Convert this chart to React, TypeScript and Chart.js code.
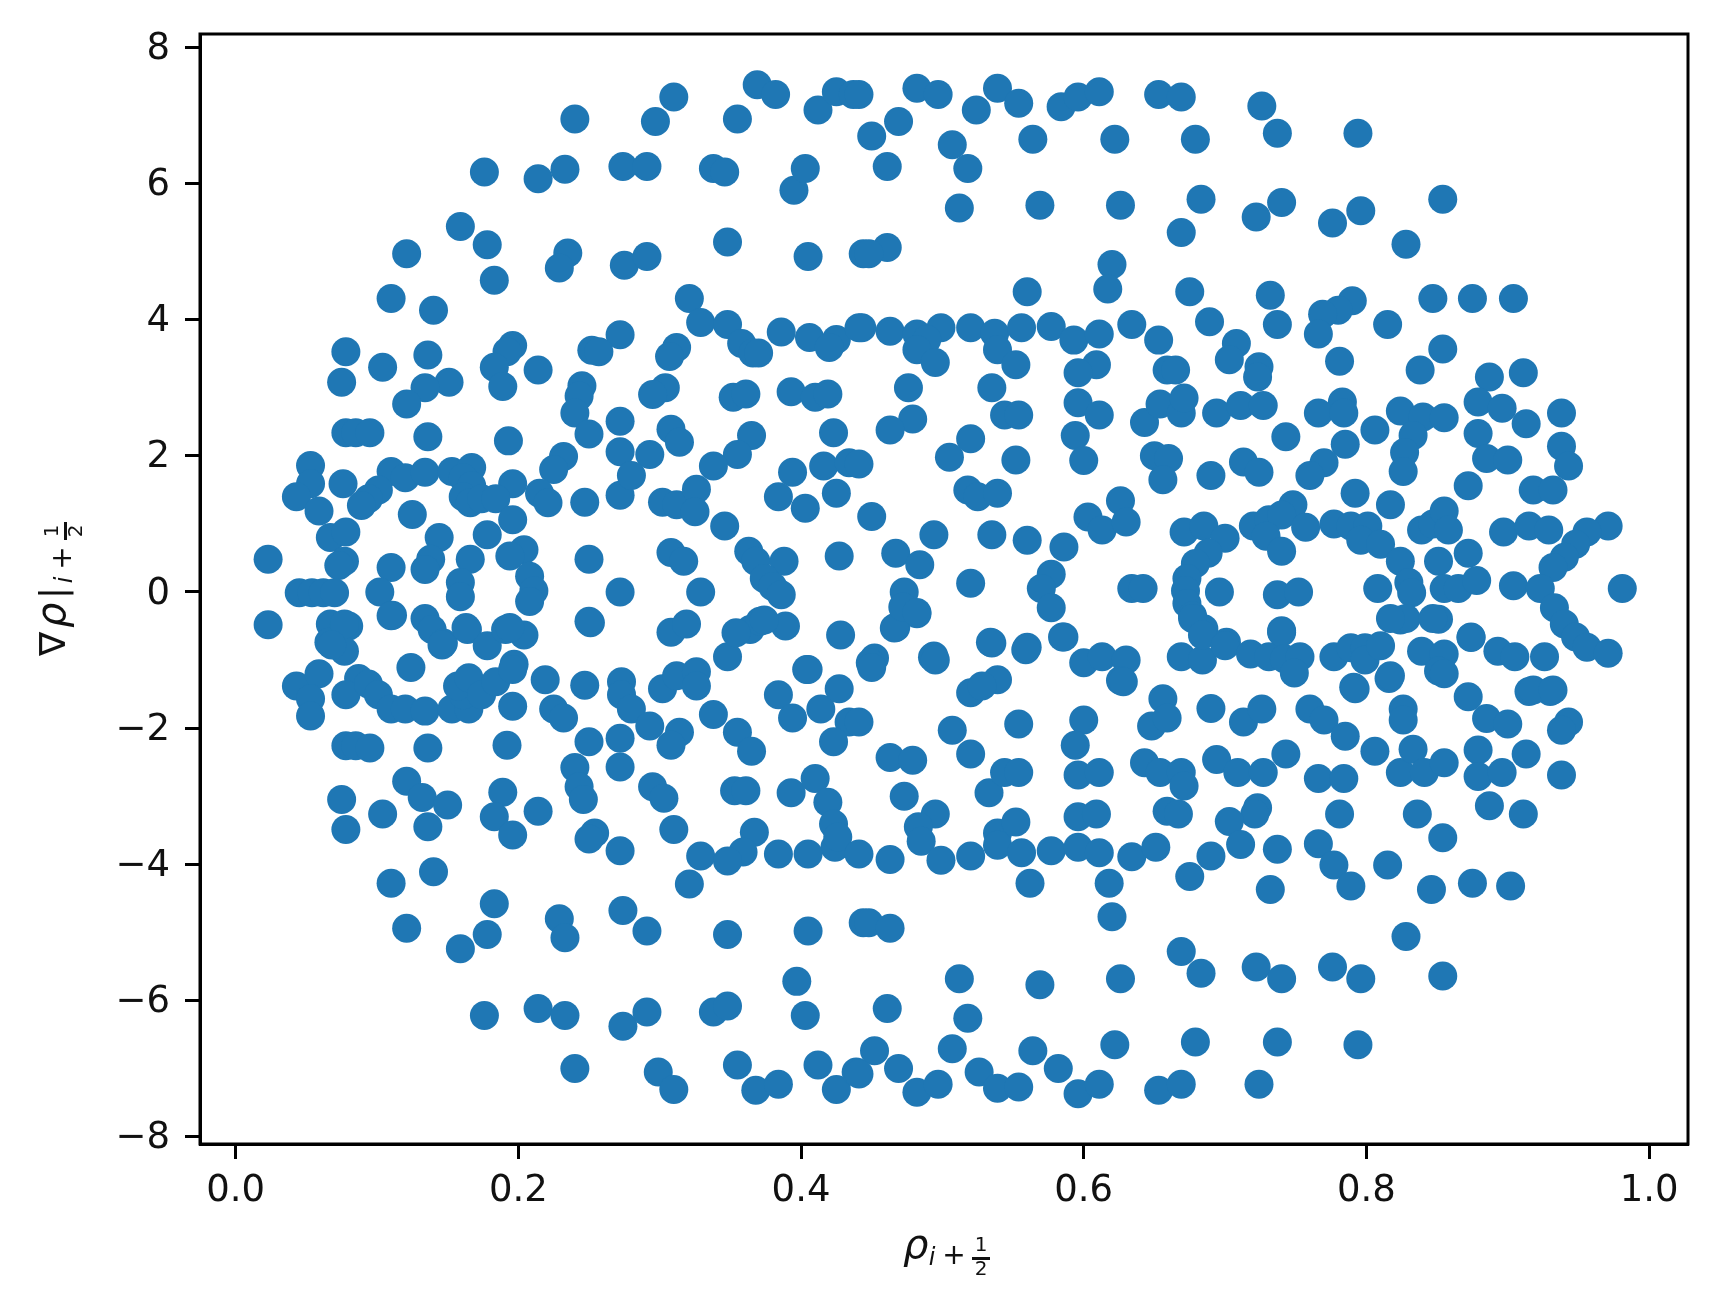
import React, { useEffect, useRef } from "react";
import { Chart, registerables } from "chart.js";

Chart.register(...registerables);

const xTickValues = [0, 0.2, 0.4, 0.6, 0.8, 1.0];
const yTickValues = [-8, -6, -4, -2, 0, 2, 4, 6, 8];

const upperLeft: number[][] = [
[.369,7.45],[.382,7.31],[.310,7.27],[.240,6.95],[.297,6.91],[.355,6.95],[.412,7.08],[.425,7.35],[.437,7.31],[.176,6.17],[.214,6.07],[.233,6.21],[.274,6.25],[.291,6.25],[.338,6.22],[.346,6.17],[.395,5.90],[.403,6.22],[.159,5.37],[.178,5.10],[.121,4.97],[.235,4.98],[.229,4.76],[.275,4.80],[.291,4.93],[.348,5.14],[.405,4.93],[.444,4.97],[.183,4.58],[.110,4.31],[.140,4.14],[.321,4.31],[.329,3.96],[.348,3.93],[.386,3.82],[.406,3.74],[.425,3.71],[.420,3.59],[.443,3.88],[.272,3.78],[.252,3.55],[.257,3.53],[.312,3.59],[.307,3.46],[.358,3.65],[.366,3.51],[.370,3.51],[.078,3.53],[.136,3.48],[.104,3.30],[.196,3.62],[.192,3.53],[.183,3.30],[.189,3.02],[.214,3.26],[.075,3.08],[.151,3.08],[.134,3.00],[.121,2.76],[.245,3.03],[.243,2.88],[.240,2.63],[.250,2.32],[.272,2.51],[.304,3.00],[.295,2.90],[.352,2.86],[.361,2.91],[.393,2.94],[.410,2.86],[.419,2.91],[.078,2.34],[.085,2.34],[.095,2.34],[.136,2.28],[.193,2.22],[.423,2.34],[.308,2.39],[.314,2.20],[.365,2.30],[.355,2.02],[.272,2.06],[.293,2.02],[.338,1.85],[.232,1.99],[.225,1.80],[.053,1.86],[.394,1.76],[.416,1.85],[.434,1.90],[.110,1.77],[.120,1.68],[.134,1.76],[.153,1.77],[.167,1.83],[.161,1.68],[.167,1.56],[.196,1.59],[.076,1.59],[.053,1.59],[.043,1.40],[.059,1.19],[.101,1.50],[.094,1.37],[.089,1.27],[.161,1.40],[.166,1.31],[.174,1.37],[.184,1.37],[.215,1.45],[.221,1.31],[.247,1.32],[.272,1.42],[.280,1.71],[.302,1.32],[.312,1.28],[.326,1.51],[.325,1.18],[.384,1.40],[.403,1.23],[.425,1.45],[.125,1.14],[.196,1.06],[.346,.97],[.067,.80],[.078,.88],[.144,.80],[.178,.84],[.308,.58],[.317,.45],[.363,.60],[.368,.45],[.388,.45],[.427,.53],[.023,.48],[.250,.48],[.077,.45],[.073,.39],[.138,.48],[.134,.33],[.110,.36],[.166,.48],[.204,.62],[.194,.53],[.208,.23],[.159,.14],[.211,.02],[.102,0],[.045,-.01],[.054,-.01],[.062,-.01],[.070,-.01],[.159,-.07],[.208,-.14],[.272,0],[.329,0],[.374,.20],[.380,.08],[.386,-.04],
];

const upperRight: number[][] = [
[.441,7.31],[.482,7.40],[.497,7.31],[.524,7.08],[.539,7.40],[.554,7.18],[.584,7.13],[.596,7.27],[.611,7.35],[.653,7.31],[.669,7.27],[.726,7.14],[.737,6.74],[.794,6.74],[.469,6.91],[.450,6.70],[.507,6.57],[.518,6.22],[.564,6.65],[.622,6.65],[.679,6.65],[.461,6.25],[.512,5.64],[.569,5.68],[.626,5.68],[.683,5.77],[.740,5.72],[.722,5.51],[.669,5.28],[.776,5.42],[.796,5.60],[.828,5.11],[.854,5.77],[.461,5.06],[.448,4.97],[.620,4.81],[.617,4.45],[.560,4.41],[.675,4.41],[.732,4.36],[.790,4.28],[.780,4.14],[.769,4.08],[.847,4.31],[.875,4.31],[.904,4.31],[.441,3.88],[.463,3.83],[.482,3.79],[.499,3.88],[.489,3.71],[.482,3.56],[.495,3.37],[.520,3.88],[.537,3.80],[.539,3.56],[.552,3.34],[.556,3.88],[.577,3.90],[.593,3.70],[.611,3.79],[.634,3.93],[.653,3.70],[.689,3.97],[.737,3.93],[.708,3.65],[.703,3.41],[.724,3.31],[.723,3.16],[.766,3.79],[.815,3.93],[.781,3.39],[.854,3.57],[.838,3.26],[.609,3.34],[.596,3.22],[.659,3.26],[.665,3.26],[.887,3.16],[.911,3.22],[.476,3.0],[.535,3.0],[.596,2.78],[.611,2.60],[.544,2.60],[.554,2.60],[.479,2.54],[.463,2.38],[.520,2.25],[.505,1.98],[.552,1.94],[.594,2.30],[.600,1.93],[.643,2.49],[.654,2.76],[.669,2.63],[.671,2.85],[.694,2.63],[.711,2.74],[.727,2.74],[.783,2.79],[.766,2.63],[.784,2.63],[.806,2.38],[.743,2.28],[.824,2.66],[.840,2.57],[.855,2.56],[.879,2.79],[.896,2.70],[.913,2.47],[.938,2.63],[.785,2.17],[.833,2.30],[.827,2.05],[.826,1.77],[.879,2.33],[.885,1.96],[.900,1.94],[.938,2.14],[.943,1.85],[.650,2.0],[.660,1.96],[.656,1.65],[.690,1.71],[.713,1.91],[.724,1.76],[.770,1.90],[.760,1.71],[.441,1.88],[.518,1.50],[.525,1.40],[.539,1.45],[.792,1.45],[.817,1.28],[.872,1.56],[.918,1.50],[.932,1.50],[.450,1.11],[.494,.84],[.535,.84],[.560,.76],[.586,.66],[.626,1.34],[.603,1.10],[.613,.91],[.630,1.03],[.467,.57],[.484,.40],[.473,0],[.482,-.32],[.467,-.52],[.520,.13],[.577,.26],[.570,.05],[.577,-.23],[.634,.05],[.642,.05],
[.671,.88],[.685,.97],[.700,.79],[.688,.57],[.679,.42],[.673,.20],[.672,.02],[.673,-.17],[.677,-.35],[.685,-.54],[.696,0],[.720,.97],[.731,1.06],[.748,1.28],[.740,1.13],[.757,.95],[.729,.82],[.740,.60],[.777,1.0],[.789,.97],[.801,.97],[.796,.76],[.810,.70],[.824,.45],[.830,.14],[.832,-.01],[.824,-.41],[.808,.05],[.737,-.04],[.752,0],[.740,-.57],[.839,.91],[.847,1.0],[.855,1.19],[.858,.91],[.851,.45],[.872,.57],[.855,.05],[.865,.05],[.878,.17],[.851,-.40],[.874,-.66],[.897,.88],[.915,.97],[.929,.91],[.971,.97],[.956,.88],[.948,.70],[.940,.51],[.932,.36],[.904,.09],[.923,.05],[.933,-.23],[.940,-.47],[.948,-.66],[.956,-.81],[.981,.05],[.971,-.90],[.586,-.66],[.535,-.75],[.560,-.81],[.494,-.94],[.452,-.97],
];

const middleBand: number[][] = [
[.023,-.48],[.067,-.47],[.080,-.50],[.066,-.74],[.077,-.87],[.087,-1.27],[.111,-.34],[.134,-.39],[.139,-.55],[.147,-.75],[.124,-1.11],[.164,-.55],[.178,-.79],[.191,-.55],[.204,-.63],[.197,-1.06],[.251,-.45],[.308,-.59],[.319,-.47],[.348,-.95],[.364,-.55],[.371,-.43],[.389,-.50],[.404,-1.14],[.428,-.63],[.449,-1.04],[.466,-.53],[.472,-.22],[.482,-.30],[.493,-.96],[.534,-.74],[.559,-.85],[.585,-.66],[.600,-1.04],[.613,-.95],[.630,-1.0],[.626,-1.30],[.669,-.95],[.684,-1.0],[.701,-.74],[.677,-.39],[.684,-.63],[.70,-.79],[.718,-.91],[.731,-.95],[.740,-.59],[.742,-.98],[.753,-.95],[.749,-1.19],[.777,-.95],[.789,-.82],[.799,-.82],[.799,-1.0],[.810,-.79],[.816,-1.27],[.791,-1.40],[.828,-.39],[.847,-.39],[.839,-.87],[.855,-.91],[.851,-1.16],[.893,-.87],[.905,-.95],[.926,-.95],[.915,-1.46],[.930,-1.46],[.874,-.67],[.817,-.39],
[.354,-.6],[.374,-.41],[.077,-.47],[.110,-.35],[.163,-.52],[.194,-.52],[.068,-.78],[.146,-.78],[.250,-.43],
];

const lowerLeft: number[][] = [
[.043,-1.38],[.059,-1.20],[.053,-1.57],[.053,-1.82],[.078,-1.51],[.094,-1.35],[.101,-1.51],[.110,-1.72],[.120,-1.72],[.134,-1.75],[.153,-1.72],[.165,-1.72],[.161,-1.51],[.157,-1.38],[.165,-1.26],[.174,-1.51],[.184,-1.32],[.196,-1.14],[.196,-1.68],[.219,-1.29],[.225,-1.72],[.232,-1.85],[.247,-1.37],[.273,-1.32],[.273,-1.51],[.280,-1.72],[.293,-1.97],[.302,-1.42],[.312,-1.23],[.326,-1.17],[.326,-1.38],[.338,-1.80],[.355,-2.06],[.365,-2.34],[.384,-1.51],[.394,-1.85],[.405,-1.14],[.414,-1.72],[.427,-1.42],[.434,-1.91],[.423,-2.20],[.314,-2.06],[.308,-2.25],[.250,-2.20],[.272,-2.15],[.272,-2.57],[.078,-2.26],[.085,-2.26],[.095,-2.29],[.136,-2.29],[.192,-2.25],[.240,-2.58],[.243,-2.86],[.246,-3.05],[.295,-2.86],[.303,-3.03],[.353,-2.92],[.361,-2.92],[.393,-2.95],[.410,-2.74],[.419,-3.09],[.423,-3.41],[.424,-3.75],[.426,-3.60],[.121,-2.78],[.132,-3.02],[.150,-3.13],[.075,-3.05],[.078,-3.49],[.104,-3.26],[.136,-3.45],[.189,-2.94],[.183,-3.30],[.196,-3.57],[.214,-3.22],[.254,-3.54],[.250,-3.63],[.272,-3.80],[.310,-3.49],[.367,-3.53],[.359,-3.82],[.329,-3.88],[.348,-3.95],[.384,-3.85],[.405,-3.85],[.321,-4.29],[.110,-4.28],[.140,-4.11],[.183,-4.58],[.229,-4.80],[.233,-5.08],[.274,-4.68],[.291,-4.98],[.348,-5.03],[.405,-4.98],[.444,-4.86],[.121,-4.94],[.178,-5.03],[.159,-5.24],[.397,-5.72],[.176,-6.22],[.214,-6.12],[.233,-6.22],[.274,-6.38],[.291,-6.17],[.338,-6.17],[.348,-6.08],[.403,-6.22],[.240,-7.0],[.299,-7.05],[.310,-7.31],[.355,-6.95],[.368,-7.32],[.384,-7.23],[.412,-6.95],[.425,-7.31],[.439,-7.05],
];

const lowerRight: number[][] = [
[.450,-1.11],[.495,-1.0],[.539,-1.29],[.520,-1.48],[.528,-1.38],[.441,-1.91],[.507,-2.03],[.554,-1.94],[.600,-1.88],[.594,-2.25],[.656,-1.57],[.648,-1.97],[.659,-1.85],[.628,-1.32],[.690,-1.71],[.713,-1.91],[.726,-1.72],[.760,-1.72],[.770,-1.88],[.785,-2.12],[.826,-1.72],[.826,-1.88],[.792,-1.42],[.817,-1.23],[.855,-1.20],[.872,-1.54],[.885,-1.86],[.900,-1.94],[.918,-1.44],[.932,-1.44],[.943,-1.91],[.938,-2.03],[.463,-2.43],[.479,-2.47],[.520,-2.38],[.473,-3.0],[.533,-2.95],[.544,-2.65],[.554,-2.65],[.596,-2.69],[.611,-2.65],[.643,-2.51],[.654,-2.65],[.669,-2.65],[.671,-2.85],[.694,-2.46],[.709,-2.65],[.727,-2.65],[.743,-2.38],[.766,-2.74],[.784,-2.74],[.806,-2.34],[.824,-2.65],[.833,-2.31],[.841,-2.65],[.855,-2.51],[.879,-2.32],[.879,-2.71],[.896,-2.65],[.913,-2.38],[.938,-2.69],[.495,-3.26],[.483,-3.45],[.485,-3.66],[.499,-3.94],[.520,-3.88],[.463,-3.93],[.441,-3.85],[.539,-3.54],[.539,-3.72],[.552,-3.38],[.556,-3.83],[.577,-3.80],[.596,-3.75],[.611,-3.83],[.634,-3.89],[.651,-3.75],[.596,-3.30],[.609,-3.26],[.659,-3.22],[.667,-3.26],[.723,-3.17],[.721,-3.26],[.703,-3.37],[.711,-3.71],[.690,-3.88],[.737,-3.78],[.675,-4.18],[.766,-3.70],[.777,-4.01],[.789,-4.32],[.781,-3.26],[.836,-3.26],[.854,-3.61],[.887,-3.14],[.911,-3.26],[.815,-4.01],[.562,-4.28],[.618,-4.28],[.620,-4.77],[.732,-4.37],[.846,-4.37],[.875,-4.28],[.902,-4.32],[.448,-4.86],[.463,-4.94],[.828,-5.06],[.669,-5.28],[.683,-5.60],[.722,-5.51],[.740,-5.68],[.776,-5.51],[.796,-5.68],[.854,-5.64],[.512,-5.68],[.569,-5.77],[.626,-5.68],[.461,-6.12],[.518,-6.26],[.452,-6.74],[.507,-6.71],[.564,-6.74],[.622,-6.65],[.679,-6.61],[.737,-6.61],[.794,-6.65],[.469,-7.0],[.482,-7.35],[.497,-7.23],[.526,-7.05],[.539,-7.29],[.554,-7.27],[.582,-7.0],[.596,-7.37],[.611,-7.23],[.653,-7.32],[.669,-7.23],[.724,-7.23],[.441,-7.08],
];

const allPoints = [...upperLeft, ...upperRight, ...middleBand, ...lowerLeft, ...lowerRight];
const FONT = '"DejaVu Sans"';
const INK = "#111";

const frameAndLabels = {
  id: "frameAndLabels",
  afterDraw(chart: any) {
    const { ctx, chartArea: a } = chart;
    ctx.save();
    ctx.strokeStyle = "#000";
    ctx.lineWidth = 3;
    ctx.strokeRect(a.left, a.top, a.right - a.left, a.bottom - a.top);
    ctx.fillStyle = INK;
    ctx.textBaseline = "alphabetic";
    const glyph = (t: string, font: string, u: number, v: number, align: CanvasTextAlign) => {
      ctx.font = font;
      ctx.textAlign = align;
      ctx.fillText(t, u, v);
    };
    const suffix = (iAt: number) => {
      glyph("i", `italic 24px ${FONT}`, iAt, 7, "center");
      glyph("+", `28px ${FONT}`, iAt + 22, 6, "center");
      glyph("1", `20px ${FONT}`, iAt + 49, -7, "center");
      glyph("2", `20px ${FONT}`, iAt + 49, 17, "center");
      ctx.fillRect(iAt + 40, -1, 18, 3);
    };
    ctx.save();
    ctx.translate(903, 1258);
    glyph("ρ", `italic 40px ${FONT}`, 0, 0, "left");
    suffix(29);
    ctx.restore();
    ctx.save();
    ctx.translate(65, 655);
    ctx.rotate(-Math.PI / 2);
    glyph("∇", `36px ${FONT}`, -1, 0, "left");
    glyph("ρ", `italic 40px ${FONT}`, 27, 0, "left");
    glyph("|", `36px ${FONT}`, 62, 0, "center");
    suffix(75);
    ctx.restore();
    ctx.restore();
  },
};

const lowerLabels = (s: any) => {
  if (s.__shifted) return;
  s.__shifted = true;
  const compute = s._computeLabelItems;
  s._computeLabelItems = function (area: any) {
    const items = compute.call(this, area);
    items.forEach((it: any) => { it.options.translation[1] += 2; });
    return items;
  };
};

export default function App() {
  const ref = useRef<HTMLCanvasElement>(null);
  useEffect(() => {
    document.body.style.margin = "0";
    const chart = new Chart(ref.current!, {
      type: "scatter",
      data: {
        datasets: [{
          data: allPoints.map(([x, y]) => ({ x, y })),
          backgroundColor: "#1f77b4",
          borderWidth: 0,
          pointRadius: 14.5,
        }],
      },
      options: {
        animation: false,
        responsive: false,
        devicePixelRatio: 1,
        layout: { padding: { top: 34, right: 28, left: 0, bottom: 0 } },
        plugins: { legend: { display: false }, tooltip: { enabled: false } },
        scales: {
          x: {
            type: "linear",
            min: -0.0252,
            max: 1.0275,
            afterBuildTicks: (s: any) => { s.ticks = xTickValues.map((value) => ({ value })); },
            afterFit: (s: any) => { s.height = 170; s.paddingLeft = 0; s.paddingRight = 0; },
            grid: { drawOnChartArea: false, drawTicks: true, tickLength: 15, tickWidth: 3, tickColor: "#000" },
            border: { color: "#000", width: 3 },
            ticks: {
              color: INK, padding: 10, maxRotation: 0, autoSkip: false,
              font: { family: "DejaVu Sans", size: 37 },
              callback: (v: any) => Number(v).toFixed(1),
            },
          },
          y: {
            type: "linear",
            min: -8.109,
            max: 8.197,
            afterBuildTicks: (s: any) => { s.ticks = yTickValues.map((value) => ({ value })); },
            afterFit: (s: any) => { s.width = 200; s.paddingTop = 0; s.paddingBottom = 0; lowerLabels(s); },
            grid: { drawOnChartArea: false, drawTicks: true, tickLength: 15, tickWidth: 3, tickColor: "#000" },
            border: { color: "#000", width: 3 },
            ticks: {
              color: INK, padding: 15, autoSkip: false,
              font: { family: "DejaVu Sans", size: 37 },
              callback: (v: any) => String(v).replace("-", "\u2212"),
            },
          },
        },
      },
      plugins: [frameAndLabels],
    } as any);
    return () => chart.destroy();
  }, []);
  return <canvas ref={ref} width={1716} height={1314} style={{ display: "block", width: 1716, height: 1314, filter: "blur(0.6px)" }} />;
}
